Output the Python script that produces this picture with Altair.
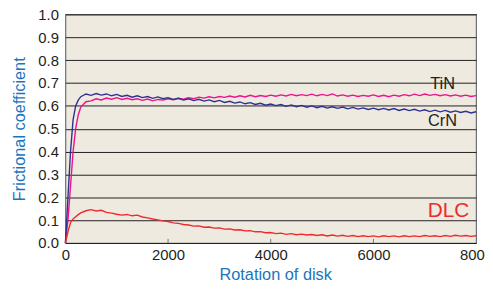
import altair as alt
import pandas as pd

# Rotation sampling positions
X_EARLY = [0, 50, 100, 150, 200, 250]
X_MAIN = list(range(300, 8001, 100))

TIN_EARLY = [0.0, 0.10, 0.25, 0.40, 0.50, 0.56]
CRN_EARLY = [0.0, 0.20, 0.40, 0.54, 0.60, 0.625]
DLC_EARLY = [0.0, 0.05, 0.09, 0.105, 0.115, 0.124]

TIN = [0.595, 0.618, 0.622, 0.631, 0.626, 0.634, 0.629, 0.636, 0.628, 0.633,
       0.627, 0.631, 0.624, 0.630, 0.622, 0.628, 0.625, 0.631, 0.626, 0.633,
       0.629, 0.636, 0.631, 0.638, 0.634, 0.640, 0.635, 0.641, 0.637, 0.643,
       0.638, 0.644, 0.639, 0.646, 0.640, 0.645, 0.641, 0.647, 0.642, 0.648,
       0.643, 0.650, 0.644, 0.649, 0.645, 0.651, 0.644, 0.650, 0.645, 0.652,
       0.643, 0.648, 0.642, 0.647, 0.641, 0.646, 0.642, 0.648, 0.641, 0.646,
       0.640, 0.647, 0.642, 0.649, 0.644, 0.651, 0.645, 0.652, 0.646, 0.650,
       0.644, 0.649, 0.643, 0.648, 0.642, 0.647, 0.641, 0.645]

CRN = [0.640, 0.652, 0.646, 0.654, 0.647, 0.652, 0.644, 0.650, 0.641, 0.646,
       0.638, 0.644, 0.636, 0.641, 0.633, 0.639, 0.631, 0.636, 0.628, 0.633,
       0.625, 0.631, 0.623, 0.629, 0.621, 0.626, 0.618, 0.624, 0.615, 0.620,
       0.612, 0.617, 0.609, 0.614, 0.606, 0.611, 0.603, 0.608, 0.601, 0.606,
       0.598, 0.604, 0.596, 0.602, 0.594, 0.600, 0.592, 0.598, 0.590, 0.596,
       0.589, 0.595, 0.587, 0.593, 0.586, 0.591, 0.584, 0.590, 0.583, 0.589,
       0.582, 0.588, 0.580, 0.586, 0.579, 0.585, 0.577, 0.583, 0.575, 0.581,
       0.574, 0.580, 0.572, 0.578, 0.571, 0.576, 0.569, 0.574]

DLC = [0.132, 0.141, 0.146, 0.140, 0.143, 0.134, 0.131, 0.126, 0.122, 0.125,
       0.119, 0.122, 0.114, 0.110, 0.105, 0.101, 0.097, 0.094, 0.088, 0.086,
       0.081, 0.079, 0.074, 0.075, 0.069, 0.070, 0.065, 0.066, 0.061, 0.062,
       0.057, 0.058, 0.053, 0.054, 0.049, 0.050, 0.045, 0.046, 0.041, 0.043,
       0.038, 0.041, 0.036, 0.039, 0.035, 0.037, 0.033, 0.036, 0.031, 0.035,
       0.030, 0.034, 0.029, 0.033, 0.028, 0.032, 0.028, 0.031, 0.027, 0.032,
       0.028, 0.031, 0.027, 0.032, 0.028, 0.031, 0.028, 0.033, 0.029, 0.032,
       0.028, 0.033, 0.029, 0.034, 0.030, 0.033, 0.029, 0.032]

SERIES = ["TiN", "CrN", "DLC"]
COLORS = ["#EC138C", "#2E3192", "#EE2A2E"]

LABELS = ["TiN", "CrN", "DLC"]
LABEL_X = [7346, 7346, 7462]
LABEL_Y = [0.697, 0.532, 0.139]
LABEL_COLORS = ["#231F20", "#231F20", "#EE2A2E"]
LABEL_SIZES = [16.5, 16.5, 21]

TICK_X = [2000, 4000, 6000]
X_TICKS = [0, 2000, 4000, 6000, 8000]
Y_TICKS = [0.0, 0.1, 0.2, 0.3, 0.4, 0.5, 0.6, 0.7, 0.8, 0.9, 1.0]

rows = []
for name, early, main in [("TiN", TIN_EARLY, TIN), ("CrN", CRN_EARLY, CRN), ("DLC", DLC_EARLY, DLC)]:
    for xv, yv in zip(X_EARLY + X_MAIN, early + main):
        rows.append({"rot": xv, "mu": yv, "series": name})
df = pd.DataFrame(rows)

FONT = "Liberation Sans"
xscale = alt.Scale(domain=[0, 8000], nice=False)
yscale = alt.Scale(domain=[0, 1.0], nice=False)

xaxis = alt.Axis(title="Rotation of disk", values=X_TICKS,
                 format="d", grid=False, domain=False, ticks=False,
                 labelPadding=5, labelFontSize=15, labelColor="#231F20",
                 labelFont=FONT, labelFlush=False, labelOverlap=False,
                 titleFont=FONT, titleFontSize=16.5,
                 titleFontWeight="normal", titleColor="#1C75BC",
                 titlePadding=4, titleX=212)
yaxis = alt.Axis(title="Frictional coefficient", values=Y_TICKS, tickCount=11,
                 format=".1f", grid=True, gridColor="#231F20", gridWidth=1,
                 domain=False, ticks=False, labelPadding=7, labelFontSize=15,
                 labelColor="#231F20", labelFont=FONT, labelOverlap=False,
                 titleFont=FONT, titleFontSize=16.5,
                 titleFontWeight="normal", titleColor="#1C75BC",
                 titlePadding=10)

lines = alt.Chart(df).mark_line(strokeWidth=1.4).encode(
    x=alt.X("rot:Q", scale=xscale, axis=xaxis),
    y=alt.Y("mu:Q", scale=yscale, axis=yaxis),
    color=alt.Color("series:N", scale=alt.Scale(domain=SERIES, range=COLORS), legend=None),
    detail="series:N",
    order=alt.Order("rot:Q"),
)

ticks_df = pd.DataFrame({"x": TICK_X, "y0": [0.0] * 3, "y1": [0.018] * 3})
ticks = alt.Chart(ticks_df).mark_rule(color="#777777", strokeWidth=1).encode(
    x=alt.X("x:Q", scale=xscale, axis=xaxis),
    y=alt.Y("y0:Q", scale=yscale, axis=yaxis),
    y2="y1:Q")

lab_df = pd.DataFrame({"label": LABELS, "x": LABEL_X, "y": LABEL_Y,
                       "c": LABEL_COLORS, "s": LABEL_SIZES})
texts = alt.Chart(lab_df).mark_text(font=FONT, align="center",
                                    baseline="middle").encode(
    x=alt.X("x:Q", scale=xscale, axis=xaxis),
    y=alt.Y("y:Q", scale=yscale, axis=yaxis),
    text="label:N",
    color=alt.Color("c:N", scale=None),
    size=alt.Size("s:Q", scale=None),
)

chart = alt.layer(lines, ticks, texts).properties(
    width=415, height=231,
    autosize=alt.AutoSizeParams(type="none"),
    padding={"left": 58, "top": 5, "right": 9, "bottom": 46},
    background="white",
).configure_view(fill="#EEEAE0", stroke="#6D6E71", strokeWidth=1.2)

chart.save("out.html", embed_options={"renderer": "svg", "actions": False})
